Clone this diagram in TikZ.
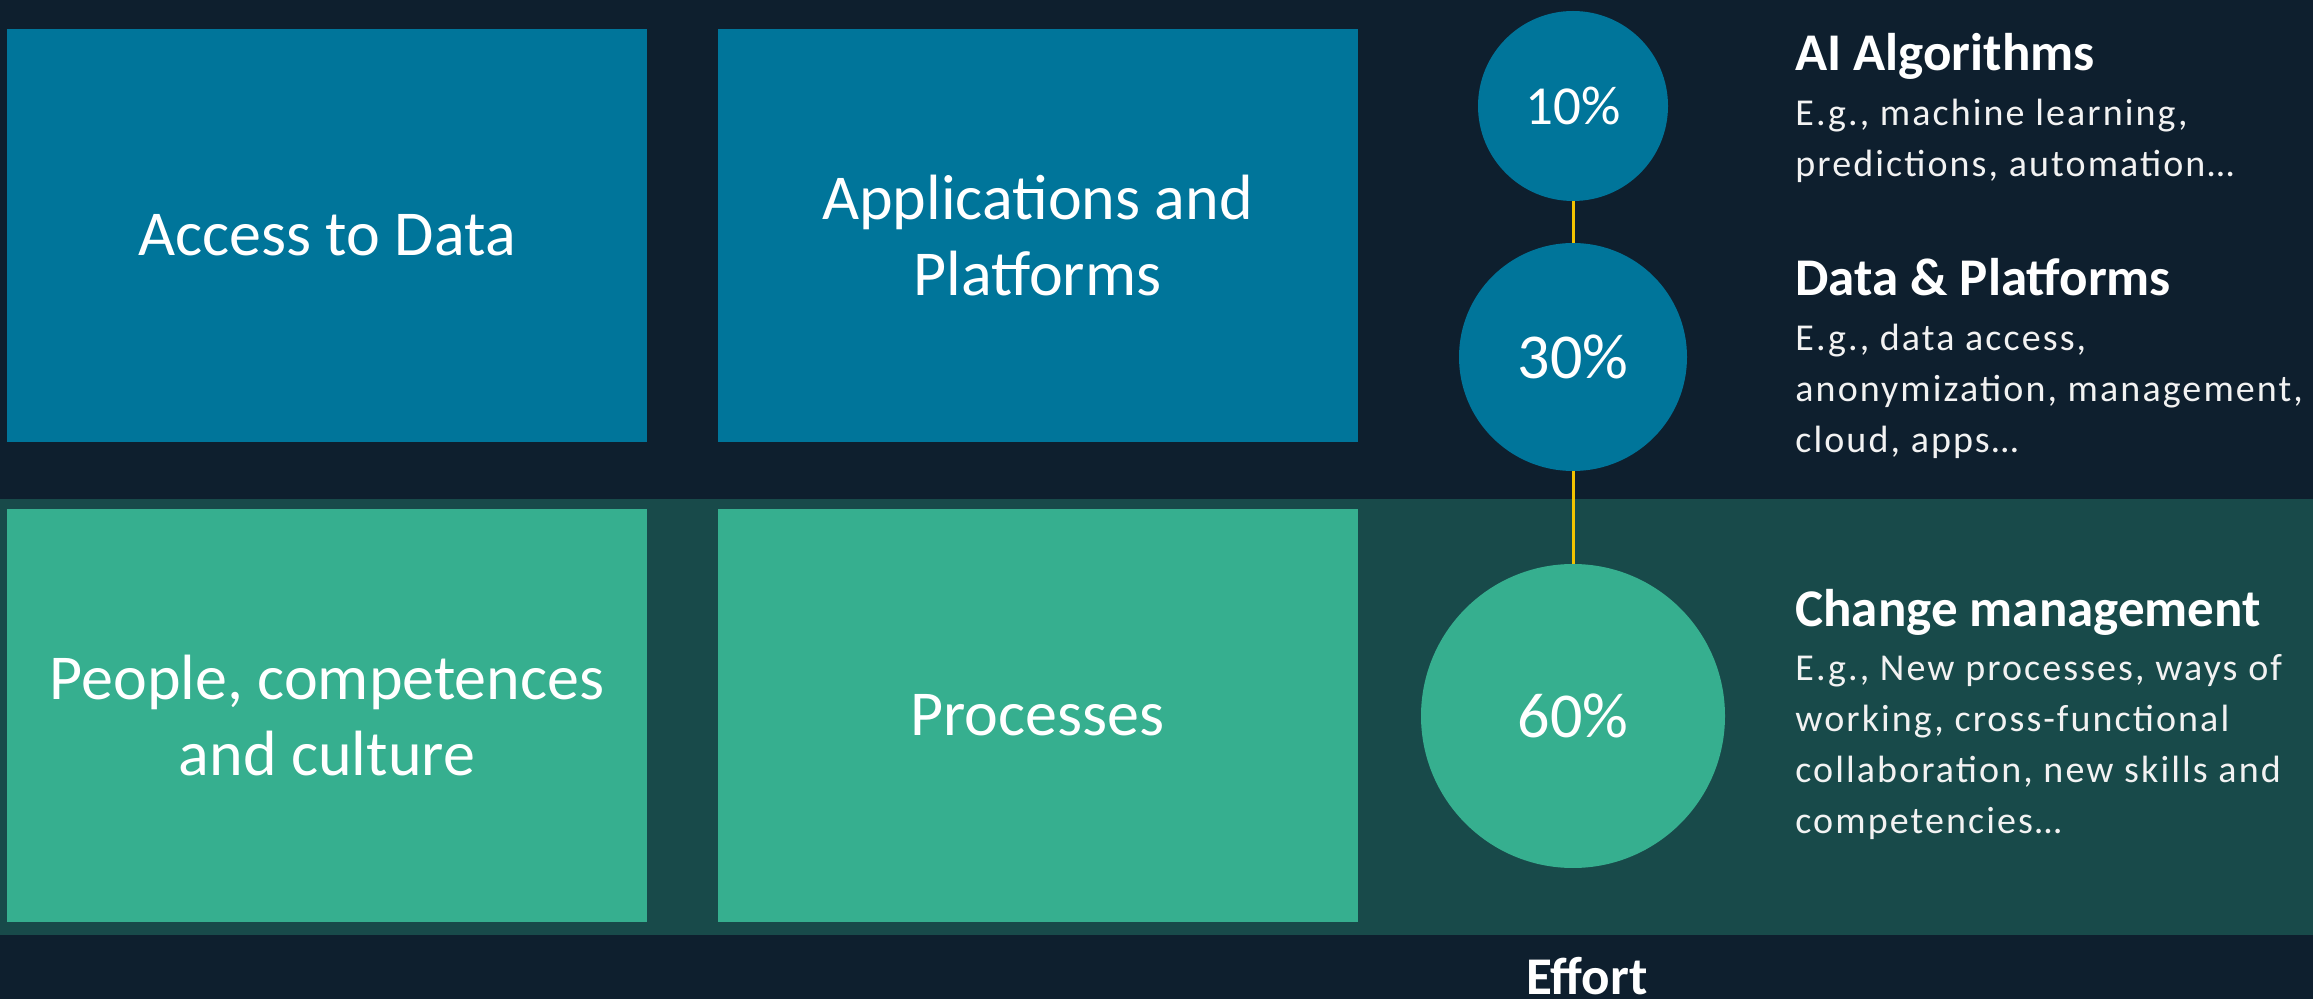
\documentclass[tikz,border=0pt]{standalone}
\usepackage{fontspec}
\setmainfont{Carlito}
\newfontfamily\descfont[LetterSpace=5.5]{Carlito}
\definecolor{navy}{HTML}{0E1F2E}
\definecolor{blueboxc}{HTML}{00759A}
\definecolor{greenboxc}{HTML}{36AF8F}
\definecolor{bandc}{HTML}{184A4A}
\definecolor{linec}{HTML}{F2C300}
\definecolor{desctext}{HTML}{F2F2F2}
\tikzset{
  bigbox/.style={rectangle, inner sep=0pt, minimum width=320pt, minimum height=206.5pt,
    align=center, text=white, font=\fontsize{32}{38}\selectfont},
  bluebox/.style={bigbox, fill=blueboxc},
  greenbox/.style={bigbox, fill=greenboxc},
  pct/.style={circle, inner sep=0pt, text=white, font=\fontsize{32}{38}\selectfont},
  title/.style={anchor=base west, inner sep=0pt, text=white, font=\bfseries\fontsize{26.5}{30}\selectfont},
  desc/.style={anchor=base west, inner sep=0pt, align=left, text=desctext, font=\descfont\fontsize{19}{25.5}\selectfont},
  connector/.style={draw=linec, line width=1.5pt}
}
\begin{document}
\begin{tikzpicture}[x=0.5pt, y=-0.5pt]
  \fill[navy] (0,0) rectangle (2313,999);
  \useasboundingbox (0,0) rectangle (2313,999);
  \fill[bandc] (0,499) rectangle (2313,935);

  \node[bluebox] (access) at (327,235.5) {Access to Data};
  \node[bluebox] (apps) at (1037.5,235.5) {Applications and\\Platforms};
  \node[greenbox] (people) at (327,715.5) {People, competences\\and culture};
  \node[greenbox] (proc) at (1037.5,715.5) {Processes};

  \node[pct, fill=blueboxc, minimum size=95pt, font=\fontsize{27.5}{33}\selectfont] (c10) at (1573,106) {10\%};
  \node[pct, fill=blueboxc, minimum size=114pt] (c30) at (1573,357) {30\%};
  \node[pct, fill=greenboxc, minimum size=152pt] (c60) at (1573,716) {60\%};

  \draw[connector] (c10.south) -- (c30.north);
  \draw[connector] (c30.south) -- (c60.north);

  \node[title] (t1) at (1795,71) {AI Algorithms};
  \node[desc] (d1) at (1795,177) {E.g., machine learning,\\predictions, automation…};
  \node[title] (t2) at (1795,296) {Data \& Platforms};
  \node[desc] (d2) at (1795,453) {E.g., data access,\\anonymization, management,\\cloud, apps…};
  \node[title] (t3) at (1795,626) {Change management};
  \node[desc] (d3) at (1795,833) {E.g., New processes, ways of\\working, cross-functional\\collaboration, new skills and\\competencies…};

  \node[anchor=base, inner sep=0pt, text=white, font=\bfseries\fontsize{26.5}{30}\selectfont] (effort) at (1587,994) {Effort};
\end{tikzpicture}
\end{document}
